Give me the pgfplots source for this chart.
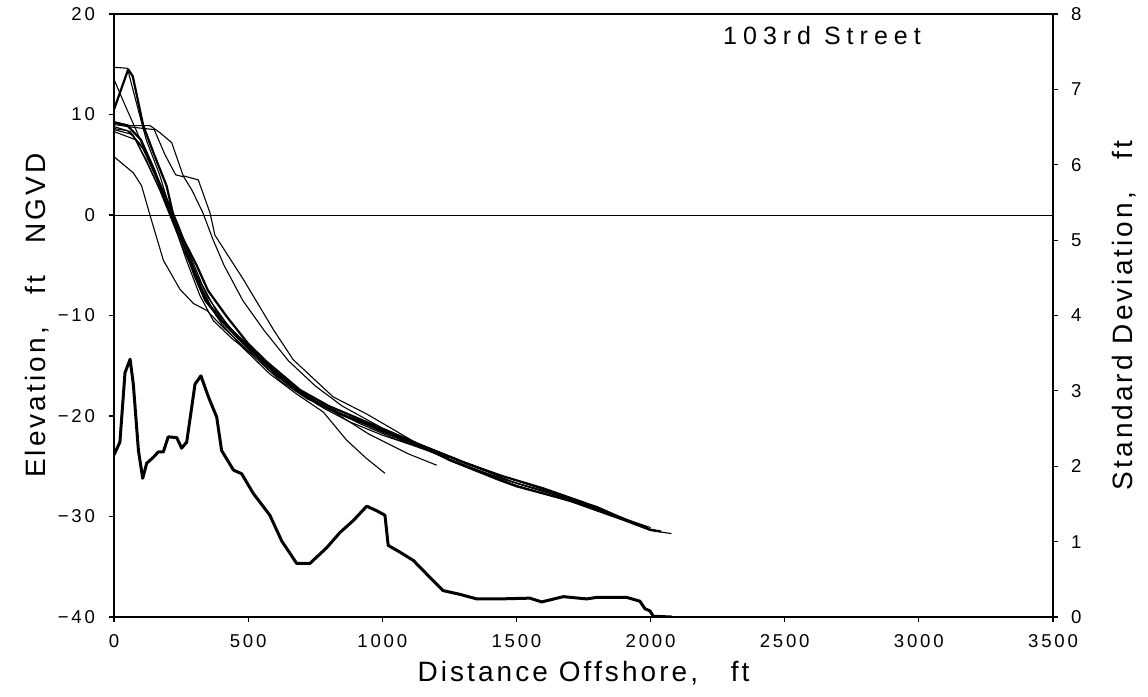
\documentclass[border=0pt]{standalone}
\usepackage{fontspec}
\setmainfont{Liberation Sans}
\newfontfamily\tickfont{Liberation Sans}[LetterSpace=15]
\newfontfamily\labelfont{Liberation Sans}[LetterSpace=11]
\newfontfamily\notefont{Liberation Sans}[LetterSpace=24]
\usepackage{pgfplots}
\pgfplotsset{compat=1.18}

\pgfplotsset{
  panel/.style={
    scale only axis, width=469.5pt, height=301.5pt,
    at={(0,0)}, anchor=south west,
    xmin=0, xmax=3500,
    axis line style={line width=0.6pt},
    tick style={line width=0.6pt, black},
    major tick length=2.5pt,
    tick align=outside,
    tick label style={font=\tickfont\fontsize{9.3}{11}\selectfont},
  },
  prof/.style={black, line width=0.55pt, line join=round},
  profthick/.style={black, line width=1.1pt, line join=round},
}

\begin{document}
\begin{tikzpicture}
% elevation profiles
\begin{axis}[panel,
  ymin=-40, ymax=20,
  xtick={0,500,...,3500},
  xticklabels={0,500,1000,1500,2000,2500,3000,3500},
  xticklabel style={yshift=-2.5pt},
  xtick pos=bottom,
  ytick={-40,-30,...,20},
  yticklabels={−40,−30,−20,−10,0,10,20},
  yticklabel style={xshift=-3.5pt},
  ytick pos=left,
  extra y ticks={0}, extra y tick labels={},
  extra y tick style={grid=major, major grid style={black, line width=0.4pt}, major tick length=0pt},
  xlabel={Distance Offshore,\ \ \ ft},
  xlabel style={font=\labelfont\fontsize{14}{16}\selectfont, at={(axis description cs:0.5,-0.093)}, anchor=center},
  ylabel={Elevation,\ \ \ ft\ \ \ NGVD},
  ylabel style={font=\labelfont\fontsize{14}{16}\selectfont, at={(axis description cs:-0.082,0.5)}, anchor=center},
]
% A
\addplot[profthick] coordinates {(0,10.5)(53,14.5)(70,13.8)(109,8.9)(147,6.2)(196,2.9)(221,0)(260,-2.5)(308,-5)(350,-7.5)(420,-10.1)(500,-12.8)(569,-14.6)(693,-17.4)(800,-19.0)(942,-20.6)(1100,-22.4)(1252,-24.4)(1439,-26.4)(1501,-27.0)(1724,-28.6)(1873,-30.0)(1998,-31.3)(2040,-31.5)};
% B
\addplot[prof] coordinates {(0,14.7)(50,14.6)(90,10.5)(120,7.5)(170,4)(210,0.5)(250,-2.5)(300,-5.5)(350,-8.2)(420,-10.8)(500,-13.2)(600,-15.5)(700,-17.6)(800,-19.3)(950,-20.8)(1100,-22.6)(1250,-24.3)(1400,-25.9)(1500,-26.9)(1700,-28.5)(1900,-30.4)(2000,-31.4)(2078,-31.7)};
% C
\addplot[prof] coordinates {(0,13.5)(40,11)(80,8.6)(130,5.5)(180,2.5)(230,-0.5)(280,-3.8)(330,-7)(380,-9.5)(450,-11.8)(550,-14.5)(650,-16.8)(750,-18.5)(850,-19.8)(1000,-21.5)(1150,-23.2)(1300,-24.9)(1450,-26.3)(1600,-27.4)(1750,-28.7)(1900,-30.3)(1990,-31.1)};
% D
\addplot[prof] coordinates {(0,9.3)(60,8.9)(134,8.9)(171,8.2)(215,7.2)(258,3.9)(314,3.5)(358,0.2)(376,-2)(482,-6.4)(594,-11.4)(668,-14.4)(817,-18.1)(942,-19.8)(1128,-22.7)(1300,-24.6)(1500,-26.7)(1700,-28.3)(1900,-30.2)(2000,-31.1)};
% E
\addplot[prof] coordinates {(0,9.0)(80,8.7)(150,8.5)(190,6)(230,4)(260,3.8)(290,2.5)(330,0.3)(370,-2.5)(410,-5)(480,-8.5)(560,-11.5)(650,-14.5)(750,-17)(850,-19)(1000,-21.2)(1150,-22.9)(1300,-24.5)(1450,-26)(1600,-27.3)(1800,-29)(1950,-30.8)};
% F
\addplot[prof] coordinates {(0,5.8)(72,4.2)(103,2.9)(134,0)(184,-4.5)(246,-7.4)(296,-8.8)(346,-9.5)(400,-11)(480,-13)(580,-15.5)(680,-17.5)(780,-19.2)(880,-20.6)(1000,-21.9)(1100,-22.8)(1250,-24.2)};
% G
\addplot[prof] coordinates {(0,8.8)(60,8.3)(110,6.5)(160,3.5)(200,1)(240,-1.8)(290,-5)(340,-8.2)(400,-10.8)(480,-13.2)(580,-15.8)(680,-17.8)(780,-19.6)(867,-22.4)(940,-24.2)(1010,-25.7)};
% H
\addplot[prof] coordinates {(0,8.6)(50,8.4)(100,7)(150,4.5)(200,1.5)(240,-1)(280,-4)(330,-7.5)(380,-10)(450,-12)(520,-13.8)(620,-16.2)(720,-18)(820,-19.6)(950,-21.8)(1100,-23.8)(1203,-24.9)};
% I
\addplot[prof] coordinates {(0,8.5)(70,8.0)(120,5.5)(170,2.5)(215,-0.5)(260,-3.5)(310,-6.5)(360,-9)(420,-11)(500,-13.3)(600,-15.8)(700,-17.8)(800,-19.3)(900,-20.4)(1000,-21.6)(1100,-22.7)(1250,-24.3)(1400,-25.8)(1550,-27.1)(1700,-28.3)(1850,-29.8)(1950,-30.8)(2010,-31.4)};
% J
\addplot[prof] coordinates {(0,8.3)(80,7.5)(130,4.8)(180,2)(225,-1)(270,-4.5)(320,-8)(370,-10.5)(440,-12.3)(520,-14)(620,-16.5)(720,-18.3)(820,-19.5)(920,-20.8)(1050,-22.3)(1200,-23.6)(1280,-24.3)};
% K
\addplot[profthick] coordinates {(0,9.2)(50,8.9)(100,7.5)(150,4.5)(190,1.5)(220,-0.5)(260,-3)(300,-6)(340,-8.5)(400,-10.5)(480,-12.5)(560,-14.5)(660,-17)(760,-18.8)(860,-20)(960,-21)(1060,-22)(1180,-23.3)(1300,-24.6)(1450,-26)(1600,-27.2)(1750,-28.6)(1880,-30)(1980,-31.1)};
\node[font=\notefont\fontsize{12.5}{14}\selectfont, anchor=center] at (axis description cs:0.754,0.965) {103rd Street};
\end{axis}
% standard deviation on the right-hand scale
\begin{axis}[panel,
  ymin=0, ymax=8,
  axis x line=none,
  axis y line*=right,
  ytick={0,1,...,8},
  yticklabels={0,1,2,3,4,5,6,7,8},
  yticklabel style={xshift=3pt},
  ylabel={Standard Deviation,\ \ \ ft},
  ylabel style={font=\labelfont\fontsize{14}{16}\selectfont, at={(axis description cs:1.0756,0.5)}, anchor=center},
]
\addplot[black, line width=1.5pt, line join=round] coordinates {(0,2.15)(22,2.32)(41,3.24)(60,3.42)(72,3.09)(91,2.21)(107,1.84)(122,2.04)(147,2.12)(165,2.19)(184,2.19)(202,2.39)(234,2.38)(252,2.24)(271,2.32)(302,3.09)(324,3.20)(352,2.92)(383,2.65)(401,2.21)(445,1.95)(476,1.90)(519,1.64)(581,1.35)(625,1.01)(681,0.71)(730,0.71)(793,0.92)(842,1.12)(892,1.28)(942,1.47)(979,1.41)(1010,1.35)(1022,0.95)(1066,0.86)(1116,0.75)(1190,0.48)(1227,0.35)(1290,0.30)(1352,0.24)(1439,0.24)(1550,0.25)(1594,0.20)(1675,0.27)(1762,0.24)(1799,0.26)(1911,0.26)(1960,0.21)(1979,0.11)(1998,0.08)(2010,0.01)(2078,0)};
\end{axis}
\pgfresetboundingbox
\path[use as bounding box] (-57pt,-40pt) rectangle (517pt,308.5pt);
\end{tikzpicture}
\end{document}
